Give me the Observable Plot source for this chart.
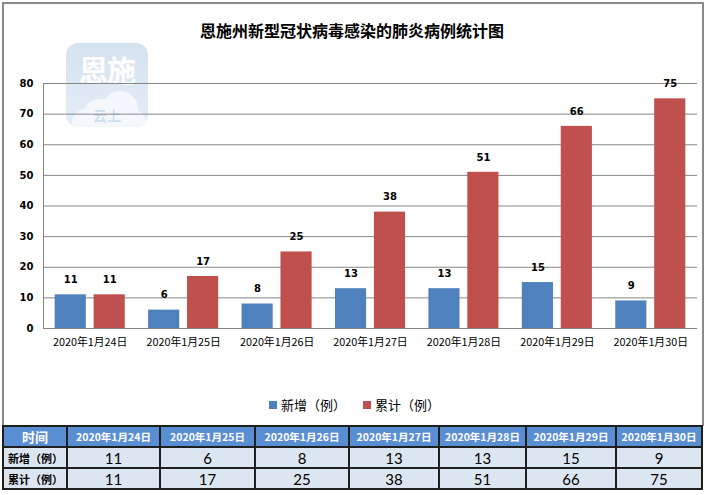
<!DOCTYPE html>
<html>
<head>
<meta charset="utf-8">
<script src="https://cdn.jsdelivr.net/npm/d3@7"></script>
<script src="https://cdn.jsdelivr.net/npm/@observablehq/plot@0.6"></script>
<style>
  html, body { margin: 0; padding: 0; background: #fff; }
  #wrap { position: relative; width: 706px; height: 495px; overflow: hidden; background: #fff; font-family: "Noto Sans CJK SC", sans-serif; }
  #frame { position: absolute; left: 2px; top: 2px; width: 702px; height: 424px; box-sizing: border-box; border: 2px solid #8a8a8a; border-bottom: none; background: #fff; }
  #logo { position: absolute; left: 66px; top: 43px; width: 82px; height: 84px; border-radius: 12px; overflow: hidden;
          background: linear-gradient(#d5e2ef, #e4eef8); }
  #logo .t1 { position: absolute; left: 0; top: 10px; width: 82px; text-align: center; color: #fff; font-weight: bold; font-size: 29px; line-height: 32px; letter-spacing: -1px; }
  #logo .c1 { position: absolute; left: 18px; top: 56px; width: 30px; height: 30px; border-radius: 50%; background: #f4f8fc; }
  #logo .c2 { position: absolute; left: 36px; top: 48px; width: 36px; height: 36px; border-radius: 50%; background: #f4f8fc; }
  #logo .c3 { position: absolute; left: 6px; top: 66px; width: 74px; height: 30px; border-radius: 14px; background: #f4f8fc; }
  #logo .t2 { position: absolute; left: 0; top: 64px; width: 82px; text-align: center; color: #cddff0; font-weight: bold; font-size: 14px; line-height: 16px; }
  #chart { position: absolute; left: 0; top: 0; }
  #title { position: absolute; left: 0; top: 19px; width: 704px; text-align: center; font-size: 16px; font-weight: bold; line-height: 22px; color: #000; }
  #legend { position: absolute; top: 396px; left: 0; width: 706px; font-size: 13px; line-height: 18px; color: #000; }
  #legend .item { position: absolute; top: 0; white-space: nowrap; }
  #legend .sw { display: inline-block; width: 8px; height: 8px; margin-right: 4px; vertical-align: 1px; }
  #tbl { position: absolute; left: 2px; top: 425px; border-collapse: collapse; table-layout: fixed; }
  #tbl td { border: 2px solid #1f1f1f; padding: 0; text-align: center; white-space: nowrap; overflow: hidden; }
  #tbl tr.h td { background: #5a8ed3; color: #fff; font-weight: bold; font-size: 10.5px; height: 19px; }
  #tbl tr.h td.first { font-size: 13px; }
  #tbl tr.r td { background: #dce6f1; color: #000; font-family: Lato, "Noto Sans CJK SC", sans-serif; font-size: 15px; height: 19px; }
  #tbl tr.r td.first { font-family: "Noto Sans CJK SC", sans-serif; font-weight: bold; font-size: 11px; text-align: left; padding-left: 4px; }
</style>
</head>
<body>
<div id="wrap">
  <div id="frame"></div>
  <div id="logo"><div class="t1">恩施</div><div class="c1"></div><div class="c2"></div><div class="c3"></div><div class="t2">云上</div></div>
  <div id="chart"></div>
  <div id="title"></div>
  <div id="legend"></div>
  <table id="tbl"></table>
</div>
<script>
// ---- data ----
const titleText = "恩施州新型冠状病毒感染的肺炎病例统计图";
const dates = ["2020年1月24日", "2020年1月25日", "2020年1月26日", "2020年1月27日", "2020年1月28日", "2020年1月29日", "2020年1月30日"];
const seriesNames = ["新增（例）", "累计（例）"];
const newCases = [11, 6, 8, 13, 13, 15, 9];
const totalCases = [11, 17, 25, 38, 51, 66, 75];
const yTicks = [0, 10, 20, 30, 40, 50, 60, 70, 80];
const tableHeader = "时间";
const colors = ["#4f81bd", "#c0504d"];

// ---- layout ----
const W = 706, H = 360, ml = 43, mr = 9, mt = 83, mb = 32;
const step = (W - ml - mr) / dates.length;
const outer = step * 0.125;
const groupW = step * 0.75;
const barW = groupW / 2.25;
const gap = groupW - 2 * barW;
const off = (barW + gap) / 2;

const labelStyle = { fontFamily: "DejaVu Sans", fontWeight: "bold", fontSize: 10, fill: "#000" };

const chart = Plot.plot({
  width: W, height: H,
  marginLeft: ml, marginRight: mr, marginTop: mt, marginBottom: mb,
  style: { background: "transparent", overflow: "visible" },
  x: { domain: dates, padding: 0, round: false, axis: null },
  y: { domain: [0, 80], axis: null },
  marks: [
    Plot.ruleY(yTicks, { stroke: "#868686", strokeWidth: 1 }),
    Plot.ruleX([dates[0]], { dx: -step / 2, y1: 0, y2: 80, stroke: "#868686", strokeWidth: 1 }),
    Plot.barY(dates, { x: d => d, y: (d, i) => newCases[i], fill: colors[0], insetLeft: outer, insetRight: step - outer - barW }),
    Plot.barY(dates, { x: d => d, y: (d, i) => totalCases[i], fill: colors[1], insetLeft: outer + barW + gap, insetRight: outer }),
    Plot.text(dates, { x: d => d, y: (d, i) => newCases[i], text: (d, i) => String(newCases[i]), dx: -off, dy: -15, ...labelStyle }),
    Plot.text(dates, { x: d => d, y: (d, i) => totalCases[i], text: (d, i) => String(totalCases[i]), dx: off, dy: -15, ...labelStyle }),
    Plot.text(yTicks, { y: d => d, text: d => String(d), frameAnchor: "left", textAnchor: "end", dx: -10, ...labelStyle }),
    Plot.text(dates, { x: d => d, text: d => d, frameAnchor: "bottom", lineAnchor: "top", dy: 10, fontFamily: "Noto Sans CJK SC", fontSize: 10.8, fill: "#000" })
  ]
});
document.getElementById("chart").appendChild(chart);
document.getElementById("title").textContent = titleText;

// legend
const legend = document.getElementById("legend");
const legendX = [269, 363];
seriesNames.forEach((s, i) => {
  const it = document.createElement("div");
  it.className = "item";
  it.style.left = legendX[i] + "px";
  it.innerHTML = `<span class="sw" style="background:${colors[i]}"></span>${s}`;
  legend.appendChild(it);
});

// table
const colW = [64, 93, 95, 94, 90, 87, 90, 86];
const tbl = document.getElementById("tbl");
const cg = document.createElement("colgroup");
colW.forEach(w => { const c = document.createElement("col"); c.style.width = w + "px"; cg.appendChild(c); });
tbl.appendChild(cg);
const rowsData = [
  { cls: "h", cells: [tableHeader, ...dates] },
  { cls: "r", cells: [seriesNames[0], ...newCases] },
  { cls: "r", cells: [seriesNames[1], ...totalCases] }
];
rowsData.forEach(r => {
  const tr = document.createElement("tr");
  tr.className = r.cls;
  r.cells.forEach((c, j) => {
    const td = document.createElement("td");
    if (j === 0) td.className = "first";
    td.textContent = c;
    tr.appendChild(td);
  });
  tbl.appendChild(tr);
});
tbl.style.width = colW.reduce((a, b) => a + b, 0) + "px";
</script>
</body>
</html>
